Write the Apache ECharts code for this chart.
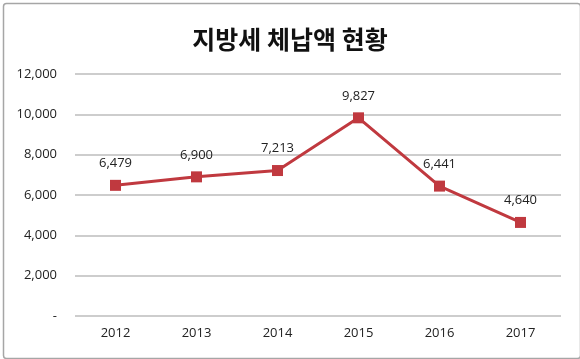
<!DOCTYPE html>
<html><head><meta charset="utf-8">
<script src="https://cdn.jsdelivr.net/npm/echarts@6/dist/echarts.min.js"></script>
<style>html,body{margin:0;padding:0;background:#fff}#c{width:580px;height:359px}</style>
</head><body><div id="c"></div>
<script>
const titleText = '지방세 체납액 현황';
const categories = ['2012','2013','2014','2015','2016','2017'];
const values = [6479, 6900, 7213, 9827, 6441, 4640];
const yTicks = [0, 2000, 4000, 6000, 8000, 10000, 12000];

const chart = echarts.init(document.getElementById('c'));
chart.setOption({
  animation: false,
  graphic: [{
    type: 'rect', left: 1, top: 1,
    shape: {width: 577, height: 355, r: 3},
    style: {fill: 'none', stroke: '#a6a6a6', lineWidth: 1.5}
  }],
  title: {
    text: titleText, left: 'center', top: 22,
    textStyle: {fontFamily: 'Noto Sans CJK KR', fontWeight: 'bold', fontSize: 25, color: '#111'}
  },
  grid: {left: 75, right: 19, top: 74, bottom: 43},
  xAxis: {
    type: 'category', data: categories, boundaryGap: true,
    axisLine: {show: false}, axisTick: {show: false},
    axisLabel: {color: '#222', fontSize: 13, margin: 11, fontFamily: 'Open Sans'}
  },
  yAxis: {
    type: 'value', min: yTicks[0], max: yTicks[yTicks.length-1], interval: 2000,
    axisLine: {show: false}, axisTick: {show: false},
    splitLine: {lineStyle: {color: '#bdbdbd', width: 1.5}},
    axisLabel: {
      color: '#222', fontSize: 13, margin: 18, fontFamily: 'Open Sans',
      formatter: v => v === 0 ? '-' : v.toLocaleString('en-US')
    }
  },
  series: [{
    type: 'line', data: values,
    symbol: 'rect', symbolSize: 11,
    lineStyle: {color: '#c0393f', width: 3},
    itemStyle: {color: '#c0393f'},
    label: {
      show: true, position: 'top', distance: 10, color: '#222', fontSize: 13, fontFamily: 'Open Sans',
      formatter: p => p.value.toLocaleString('en-US')
    }
  }]
});
</script></body></html>
